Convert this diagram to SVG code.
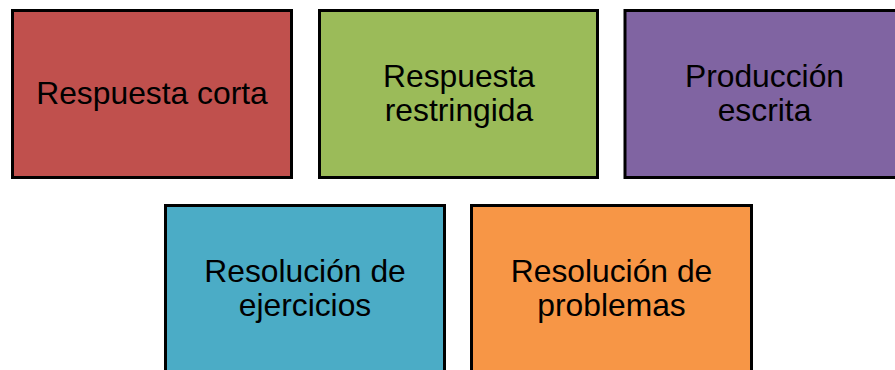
<svg xmlns="http://www.w3.org/2000/svg" width="895" height="370" viewBox="0 0 895 370">
  <style>
    .box { stroke: #000000; stroke-width: 3; }
    .lbl { font-family: "Liberation Sans", Arial, sans-serif; font-size: 31.8px; fill: #000000; text-anchor: middle; }
  </style>
  <rect width="895" height="370" fill="#ffffff"/>
  <g id="respuesta-corta">
    <rect class="box" x="12.5" y="10.5" width="279" height="167" fill="#C0504D"/>
    <text class="lbl" x="152" y="104">Respuesta corta</text>
  </g>
  <g id="respuesta-restringida">
    <rect class="box" x="319.5" y="10.5" width="278" height="167" fill="#9BBB59"/>
    <text class="lbl" x="459" y="87">Respuesta</text>
    <text class="lbl" x="459" y="121">restringida</text>
  </g>
  <g id="produccion-escrita">
    <rect class="box" x="625" y="10.5" width="279" height="167" fill="#8064A2"/>
    <text class="lbl" x="764.5" y="87">Producción</text>
    <text class="lbl" x="764.5" y="121">escrita</text>
  </g>
  <g id="resolucion-ejercicios">
    <rect class="box" x="165.5" y="205.5" width="279" height="167" fill="#4BACC6"/>
    <text class="lbl" x="305" y="282">Resolución de</text>
    <text class="lbl" x="305" y="316">ejercicios</text>
  </g>
  <g id="resolucion-problemas">
    <rect class="box" x="471.5" y="205.5" width="280" height="167" fill="#F79646"/>
    <text class="lbl" x="611.5" y="282">Resolución de</text>
    <text class="lbl" x="611.5" y="316">problemas</text>
  </g>
  <g id="connectors"></g>
</svg>
